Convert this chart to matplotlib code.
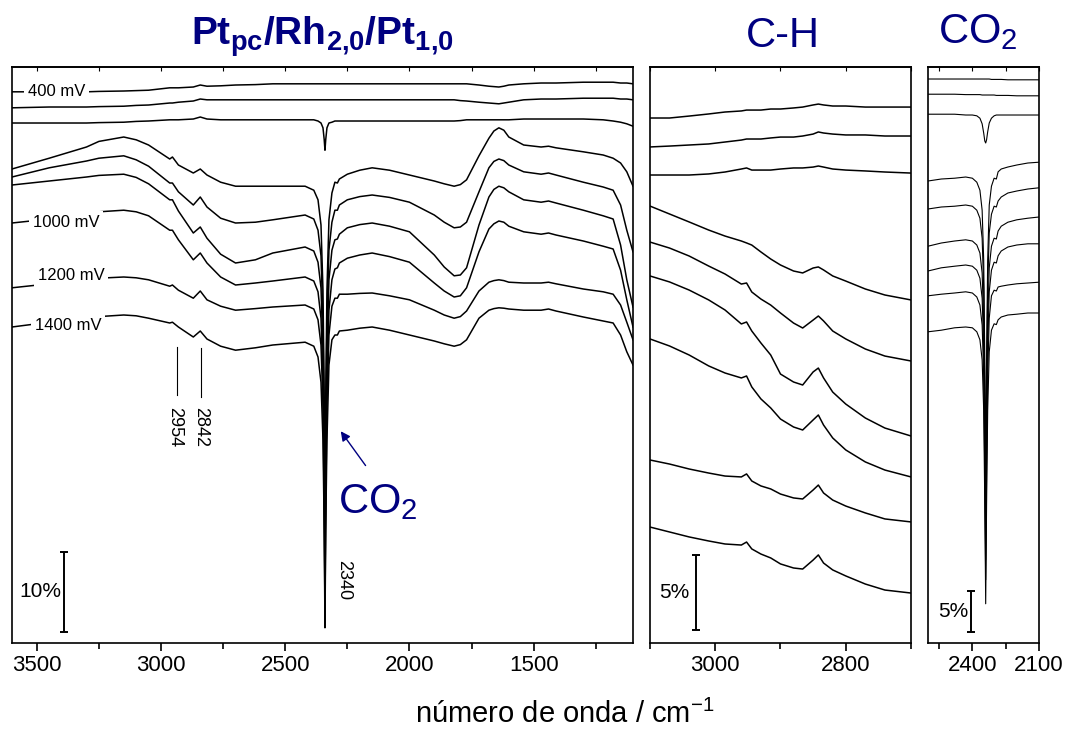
import numpy as np
import matplotlib.pyplot as plt

plt.rcParams['font.family'] = ['Liberation Sans', 'DejaVu Sans']
plt.rcParams['mathtext.fontset'] = 'custom'
plt.rcParams['mathtext.rm'] = 'Liberation Sans'
plt.rcParams['mathtext.it'] = 'Liberation Sans:italic'
plt.rcParams['mathtext.bf'] = 'Liberation Sans:bold'

azul = '#000080'

# painel largo: 3600 - 1100 cm-1 (y em %)
wn_amplo = [3600, 3450, 3300, 3250, 3150, 3100, 3050, 2965, 2954, 2930,
            2870, 2842, 2815, 2760, 2700, 2620, 2550, 2420, 2385, 2368,
            2356, 2348, 2343, 2340, 2337, 2332, 2324, 2312, 2300, 2290,
            2282, 2250, 2200, 2150, 2080, 2000, 1900, 1860, 1820, 1795,
            1770, 1720, 1680, 1660, 1640, 1620, 1600, 1540, 1470, 1440,
            1410, 1300, 1220, 1180, 1150, 1125, 1100]

amplo_1 = [68.9, 68.9, 68.9, 68.95, 69.0, 69.05, 69.1, 69.4, 69.4, 69.4,
           69.5, 69.75, 69.6, 69.65, 69.75, 69.8, 69.9, 69.9, 69.9, 69.9,
           69.9, 69.9, 69.9, 69.9, 69.9, 69.9, 69.9, 69.9, 69.9, 69.9,
           69.9, 69.9, 69.9, 69.9, 69.9, 69.9, 69.9, 69.9, 69.9, 69.9,
           69.9, 69.75, 69.6, 69.55, 69.5, 69.6, 69.75, 69.9, 70.0, 70.0,
           70.0, 70.1, 70.1, 70.1, 70.0, 70.0, 69.9]
amplo_2 = [66.9, 67.0, 67.0, 67.05, 67.1, 67.2, 67.25, 67.5, 67.5, 67.6,
           67.75, 68.0, 67.9, 67.9, 67.9, 67.9, 67.9, 67.9, 67.9, 67.9,
           67.9, 67.9, 67.9, 67.9, 67.9, 67.9, 67.9, 67.9, 67.9, 67.9,
           67.9, 67.9, 67.9, 67.9, 67.9, 67.9, 67.9, 67.9, 67.9, 67.8,
           67.75, 67.6, 67.5, 67.45, 67.4, 67.5, 67.6, 67.9, 68.0, 68.0,
           68.0, 68.1, 68.1, 68.1, 68.0, 68.0, 67.9]
amplo_3 = [65.0, 65.0, 65.0, 65.05, 65.1, 65.2, 65.25, 65.4, 65.4, 65.4,
           65.5, 65.75, 65.5, 65.4, 65.4, 65.4, 65.4, 65.4, 65.4, 65.25,
           65.0, 64.4, 62.9, 61.6, 62.9, 64.4, 65.0, 65.1, 65.25, 65.25,
           65.25, 65.25, 65.25, 65.25, 65.25, 65.25, 65.25, 65.25, 65.25, 65.3,
           65.4, 65.4, 65.4, 65.4, 65.4, 65.4, 65.4, 65.5, 65.5, 65.5,
           65.5, 65.5, 65.4, 65.25, 65.1, 64.9, 64.6]
amplo_4 = [59.25, 60.6, 62.0, 62.7, 63.25, 62.9, 62.25, 60.5, 60.75, 59.75,
           58.75, 59.25, 58.5, 57.6, 57.1, 57.1, 57.1, 57.1, 56.6, 55.4,
           52.25, 44.1, 30.4, 17.9, 30.4, 44.1, 52.9, 56.25, 57.6, 57.5,
           58.0, 58.6, 59.1, 59.4, 59.1, 58.5, 57.75, 57.4, 57.1, 57.3,
           57.9, 60.9, 63.1, 64.0, 64.4, 64.1, 63.25, 62.25, 62.0, 62.1,
           61.9, 61.4, 61.0, 60.6, 60.0, 58.9, 57.1]
amplo_5 = [58.25, 59.4, 60.25, 60.6, 60.9, 60.4, 59.6, 57.5, 57.5, 56.4,
           54.75, 55.75, 54.5, 53.1, 52.5, 52.6, 52.9, 53.5, 53.0, 51.6,
           48.4, 40.4, 26.6, 12.9, 26.6, 40.4, 49.1, 52.6, 54.1, 54.1,
           54.75, 55.4, 55.8, 56.0, 55.7, 55.1, 53.5, 52.6, 51.9, 52.0,
           52.6, 56.4, 59.4, 60.2, 60.5, 60.3, 59.75, 58.9, 58.6, 58.75,
           58.5, 57.6, 57.0, 56.6, 54.75, 51.6, 48.9]
amplo_6 = [57.25, 57.75, 58.25, 58.45, 58.6, 58.2, 57.4, 55.4, 55.4, 54.0,
           51.25, 52.0, 50.6, 48.6, 47.5, 47.9, 48.75, 49.5, 49.0, 47.6,
           44.4, 36.6, 22.9, 9.1, 22.9, 36.6, 45.4, 49.1, 50.4, 50.5,
           51.1, 51.9, 52.3, 52.5, 52.1, 51.4, 48.5, 47.0, 45.9, 46.0,
           46.9, 52.25, 55.75, 56.7, 57.1, 56.9, 56.4, 55.4, 55.1, 55.25,
           55.0, 54.1, 53.4, 53.0, 49.75, 45.4, 42.0]
amplo_7 = [52.5, 53.0, 53.6, 53.9, 54.1, 53.9, 53.4, 51.6, 51.6, 50.4,
           47.9, 48.75, 47.5, 45.75, 44.75, 45.0, 45.25, 45.75, 45.25, 43.9,
           40.6, 32.9, 19.1, 5.4, 19.1, 32.9, 41.6, 45.4, 46.75, 46.9,
           47.5, 48.1, 48.5, 48.75, 48.3, 47.6, 45.0, 44.0, 43.25, 43.4,
           44.4, 48.9, 51.75, 52.4, 52.75, 52.6, 52.1, 51.4, 51.1, 51.25,
           51.0, 50.25, 49.6, 49.25, 46.6, 42.9, 39.5]
amplo_8 = [44.4, 44.9, 45.4, 45.6, 45.75, 45.65, 45.4, 44.6, 44.75, 44.1,
           43.1, 44.0, 42.9, 42.1, 41.6, 41.8, 42.0, 42.25, 41.75, 40.4,
           37.25, 29.75, 16.6, 3.5, 16.6, 29.75, 38.5, 42.1, 43.1, 43.1,
           43.6, 43.6, 43.7, 43.75, 43.4, 42.9, 41.6, 41.0, 40.6, 40.8,
           41.5, 44.0, 45.1, 45.3, 45.4, 45.3, 45.1, 45.0, 45.0, 45.1,
           44.9, 44.25, 43.9, 43.6, 42.25, 40.1, 37.9]
amplo_9 = [39.5, 40.1, 40.6, 40.8, 41.0, 40.9, 40.6, 40.0, 40.1, 39.5,
           38.25, 39.0, 38.0, 37.1, 36.6, 36.9, 37.25, 37.6, 37.1, 35.75,
           32.6, 25.4, 14.1, 1.9, 14.1, 25.4, 34.75, 37.9, 38.5, 38.5,
           39.0, 39.1, 39.35, 39.5, 39.1, 38.5, 37.75, 37.4, 37.1, 37.3,
           37.9, 40.6, 41.6, 41.8, 41.9, 41.85, 41.75, 41.6, 41.6, 41.75,
           41.5, 40.75, 40.25, 40.0, 38.5, 36.4, 34.75]

# regiao C-H: 3100 - 2700 cm-1
wn_ch = [3100, 3070, 3040, 3010, 2985, 2960, 2952,
         2944, 2930, 2915, 2900, 2880, 2866, 2850,
         2842, 2834, 2820, 2800, 2770, 2740, 2700]

ch_1 = [35.0, 35.0, 35.13, 35.27, 35.4, 35.47, 35.53, 35.53, 35.53, 35.6, 35.6,
        35.67, 35.73, 35.87, 35.93, 35.87, 35.8, 35.8, 35.73, 35.73, 35.73]
ch_2 = [33.07, 33.13, 33.2, 33.27, 33.4, 33.53, 33.6, 33.6, 33.6, 33.67, 33.73,
        33.73, 33.8, 33.93, 34.07, 34.0, 33.93, 33.87, 33.87, 33.8, 33.8]
ch_3 = [31.2, 31.2, 31.2, 31.27, 31.4, 31.6, 31.67, 31.53, 31.53, 31.53, 31.6,
        31.67, 31.67, 31.73, 31.8, 31.73, 31.6, 31.53, 31.47, 31.4, 31.33]
ch_4 = [29.13, 28.6, 28.07, 27.53, 27.13, 26.8, 26.67, 26.53, 26.07, 25.6, 25.2,
        24.8, 24.67, 25.0, 25.07, 24.87, 24.47, 24.13, 23.6, 23.2, 22.87]
ch_5 = [26.73, 26.33, 25.8, 25.13, 24.6, 23.93, 24.0, 23.4, 22.93, 22.53, 22.0,
        21.33, 21.0, 21.53, 21.8, 21.47, 20.8, 20.27, 19.6, 19.13, 18.8]
ch_6 = [24.47, 24.07, 23.53, 22.87, 22.2, 21.27, 21.4, 20.8, 20.0, 19.2, 17.93,
        17.4, 17.2, 18.07, 18.33, 17.67, 16.73, 15.93, 15.0, 14.33, 13.8]
ch_7 = [20.27, 19.8, 19.2, 18.47, 18.0, 17.67, 17.8, 17.07, 16.27, 15.67, 14.93,
        14.4, 14.2, 14.87, 15.2, 14.53, 13.67, 12.87, 12.07, 11.53, 11.07]
ch_8 = [12.2, 11.93, 11.6, 11.33, 11.13, 11.07, 11.27, 10.8, 10.47, 10.27, 9.93,
        9.67, 9.6, 10.2, 10.53, 10.0, 9.53, 9.13, 8.67, 8.27, 8.07]
ch_9 = [7.73, 7.4, 7.07, 6.8, 6.6, 6.53, 6.73, 6.27, 5.93, 5.67, 5.27,
        5.0, 4.93, 5.53, 5.87, 5.33, 4.87, 4.47, 3.93, 3.53, 3.33]

# regiao CO2: 2600 - 2100 cm-1
wn_co2 = [2600, 2540, 2480, 2430, 2400, 2380, 2366, 2356, 2349, 2344, 2340, 2336,
          2331, 2324, 2314, 2302, 2292, 2284, 2270, 2240, 2200, 2150, 2100]

co2_1 = [70.5, 70.5, 70.5, 70.5, 70.5, 70.5, 70.5, 70.5, 70.5, 70.5, 70.5, 70.5,
         70.5, 70.5, 70.45, 70.45, 70.45, 70.45, 70.45, 70.4, 70.4, 70.4, 70.4]
co2_2 = [68.6, 68.6, 68.6, 68.55, 68.55, 68.55, 68.55, 68.5, 68.5, 68.5, 68.5, 68.5,
         68.5, 68.5, 68.5, 68.5, 68.45, 68.45, 68.45, 68.45, 68.4, 68.4, 68.4]
co2_3 = [66.1, 66.1, 66.1, 66.0, 66.0, 65.9, 65.6, 64.9, 63.75, 62.75, 62.5, 62.9,
         63.9, 65.0, 65.6, 65.9, 66.0, 66.0, 66.0, 66.0, 66.0, 66.0, 66.0]
co2_4 = [57.75, 58.0, 58.1, 58.25, 58.1, 57.6, 56.6, 54.1, 47.9, 35.4, 20.4, 35.4,
         47.9, 54.75, 57.1, 58.1, 58.0, 58.9, 59.25, 59.5, 59.75, 60.0, 60.1]
co2_5 = [54.25, 54.5, 54.6, 54.75, 54.6, 54.1, 53.1, 50.6, 44.4, 31.6, 16.6, 31.6,
         44.4, 51.25, 53.6, 54.6, 54.5, 55.25, 55.75, 56.25, 56.5, 56.75, 56.9]
co2_6 = [49.6, 50.0, 50.25, 50.4, 50.25, 49.75, 48.75, 46.25, 40.0, 27.25, 12.9, 27.25,
         40.0, 46.9, 49.6, 50.6, 50.5, 51.5, 52.1, 52.6, 52.9, 53.1, 53.25]
co2_7 = [46.5, 46.9, 47.1, 47.25, 47.1, 46.6, 45.6, 43.1, 36.9, 24.1, 10.4, 24.1,
         36.9, 43.9, 46.6, 47.6, 47.5, 48.4, 49.0, 49.5, 49.75, 49.9, 49.9]
co2_8 = [43.4, 43.6, 43.75, 43.9, 43.75, 43.25, 42.25, 39.75, 33.5, 21.0, 7.9, 21.0,
         33.5, 40.6, 43.4, 44.1, 44.0, 44.5, 44.6, 44.75, 44.9, 45.0, 45.1]
co2_9 = [38.9, 39.1, 39.4, 39.5, 39.4, 38.9, 37.9, 35.4, 29.1, 17.25, 4.9, 17.25,
         29.1, 36.4, 39.1, 39.9, 39.8, 40.4, 40.75, 41.0, 41.1, 41.25, 41.25]

amplo = [amplo_1, amplo_2, amplo_3, amplo_4, amplo_5, amplo_6, amplo_7, amplo_8, amplo_9]
ch = [ch_1, ch_2, ch_3, ch_4, ch_5, ch_6, ch_7, ch_8, ch_9]
co2 = [co2_1, co2_2, co2_3, co2_4, co2_5, co2_6, co2_7, co2_8, co2_9]

potenciais = ['400 mV', '1000 mV', '1200 mV', '1400 mV']
pos_pot = [(3536, 68.9), (3516, 52.6), (3496, 45.9), (3508, 39.75)]


def estilo(ax, lim, major, minor, ylim):
    ax.set_xlim(*lim)
    ax.set_ylim(*ylim)
    ax.set_xticks(major)
    ax.set_xticks(minor, minor=True)
    ax.set_yticks([])
    ax.tick_params(axis='x', which='major', direction='out', length=6,
                   width=1.2, labelsize=16, pad=3)
    ax.tick_params(axis='x', which='minor', direction='out', length=4, width=1.2)
    for s in ax.spines.values():
        s.set_linewidth(1.2)
    topo = ax.secondary_xaxis('top')
    topo.set_xticks(major)
    topo.set_xticks(minor, minor=True)
    topo.tick_params(which='both', direction='in', length=3, width=0.8,
                     labeltop=False)
    topo.spines['top'].set_linewidth(1.2)


fig = plt.figure(figsize=(10.68, 7.30), dpi=100)
ax1 = fig.add_axes([0.0112, 0.1192, 0.5815, 0.789])
ax2 = fig.add_axes([0.6086, 0.1192, 0.2444, 0.789])
ax3 = fig.add_axes([0.8689, 0.1192, 0.1039, 0.789])

for y in amplo:
    ax1.plot(wn_amplo, y, color='k', lw=1.1, zorder=2)
for y in ch:
    ax2.plot(wn_ch, y, color='k', lw=1.1, zorder=2)
for y in co2:
    ax3.plot(wn_co2, y, color='k', lw=0.8, zorder=2)

estilo(ax1, (3600, 1100), [3500, 3000, 2500, 2000, 1500],
       [3250, 2750, 2250, 1750, 1250], (0, 72))
estilo(ax2, (3100, 2700), [3000, 2800], [3100, 2900, 2700], (0, 38.4))
estilo(ax3, (2600, 2100), [2400, 2100], [2550, 2250], (0, 72))

# rotulos dos potenciais
for txt, (x, y) in zip(potenciais, pos_pot):
    ax1.text(x, y, txt, fontsize=12, ha='left', va='center', zorder=3,
             bbox=dict(facecolor='white', edgecolor='none', pad=2.5))

# barras de escala
ax1.errorbar(3390, 6.4, yerr=5, fmt='none', ecolor='k', elinewidth=1.4,
             capsize=3, capthick=1.4)
ax1.text(3400, 6.4, '10%', ha='right', va='center', fontsize=15)
ax2.errorbar(3030, 3.37, yerr=2.5, fmt='none', ecolor='k', elinewidth=1.4,
             capsize=3, capthick=1.4)
ax2.text(3040, 3.37, '5%', ha='right', va='center', fontsize=15)
ax3.errorbar(2406, 3.95, yerr=2.55, fmt='none', ecolor='k', elinewidth=1.4,
             capsize=3, capthick=1.4)
ax3.text(2418, 3.9, '5%', ha='right', va='center', fontsize=15)

# bandas marcadas
ax1.plot([2937, 2937], [31, 37], color='k', lw=0.8)
ax1.plot([2841, 2841], [30.75, 36.9], color='k', lw=0.8)
ax1.text(2945, 27, '2954', rotation=-90, ha='center', va='center', fontsize=13)
ax1.text(2841, 27, '2842', rotation=-90, ha='center', va='center', fontsize=13)
ax1.text(2263, 7.9, '2340', rotation=-90, ha='center', va='center', fontsize=13)

ax1.annotate('', xy=(2283, 26.75), xytext=(2170, 21.9),
             arrowprops=dict(arrowstyle='-|>', color=azul, lw=1,
                             mutation_scale=14))
ax1.text(2287, 16.25, 'CO$_2$', fontsize=30, color=azul, ha='left', va='baseline')

# titulos
ax1.text(0.5, 1.038, r'$\mathbf{Pt_{pc}/Rh_{2{,}0}/Pt_{1{,}0}}$', transform=ax1.transAxes,
         ha='center', va='baseline', fontsize=28, color=azul)
ax2.text(0.51, 1.035, 'C-H', transform=ax2.transAxes, ha='center',
         va='baseline', fontsize=30, color=azul)
ax3.text(0.45, 1.042, 'CO$_2$', transform=ax3.transAxes, ha='center',
         va='baseline', fontsize=30, color=azul)

fig.text(0.529, 0.009, 'número de onda / cm$^{-1}$', ha='center',
         va='baseline', fontsize=21)

fig.savefig('out.png', dpi=100)
